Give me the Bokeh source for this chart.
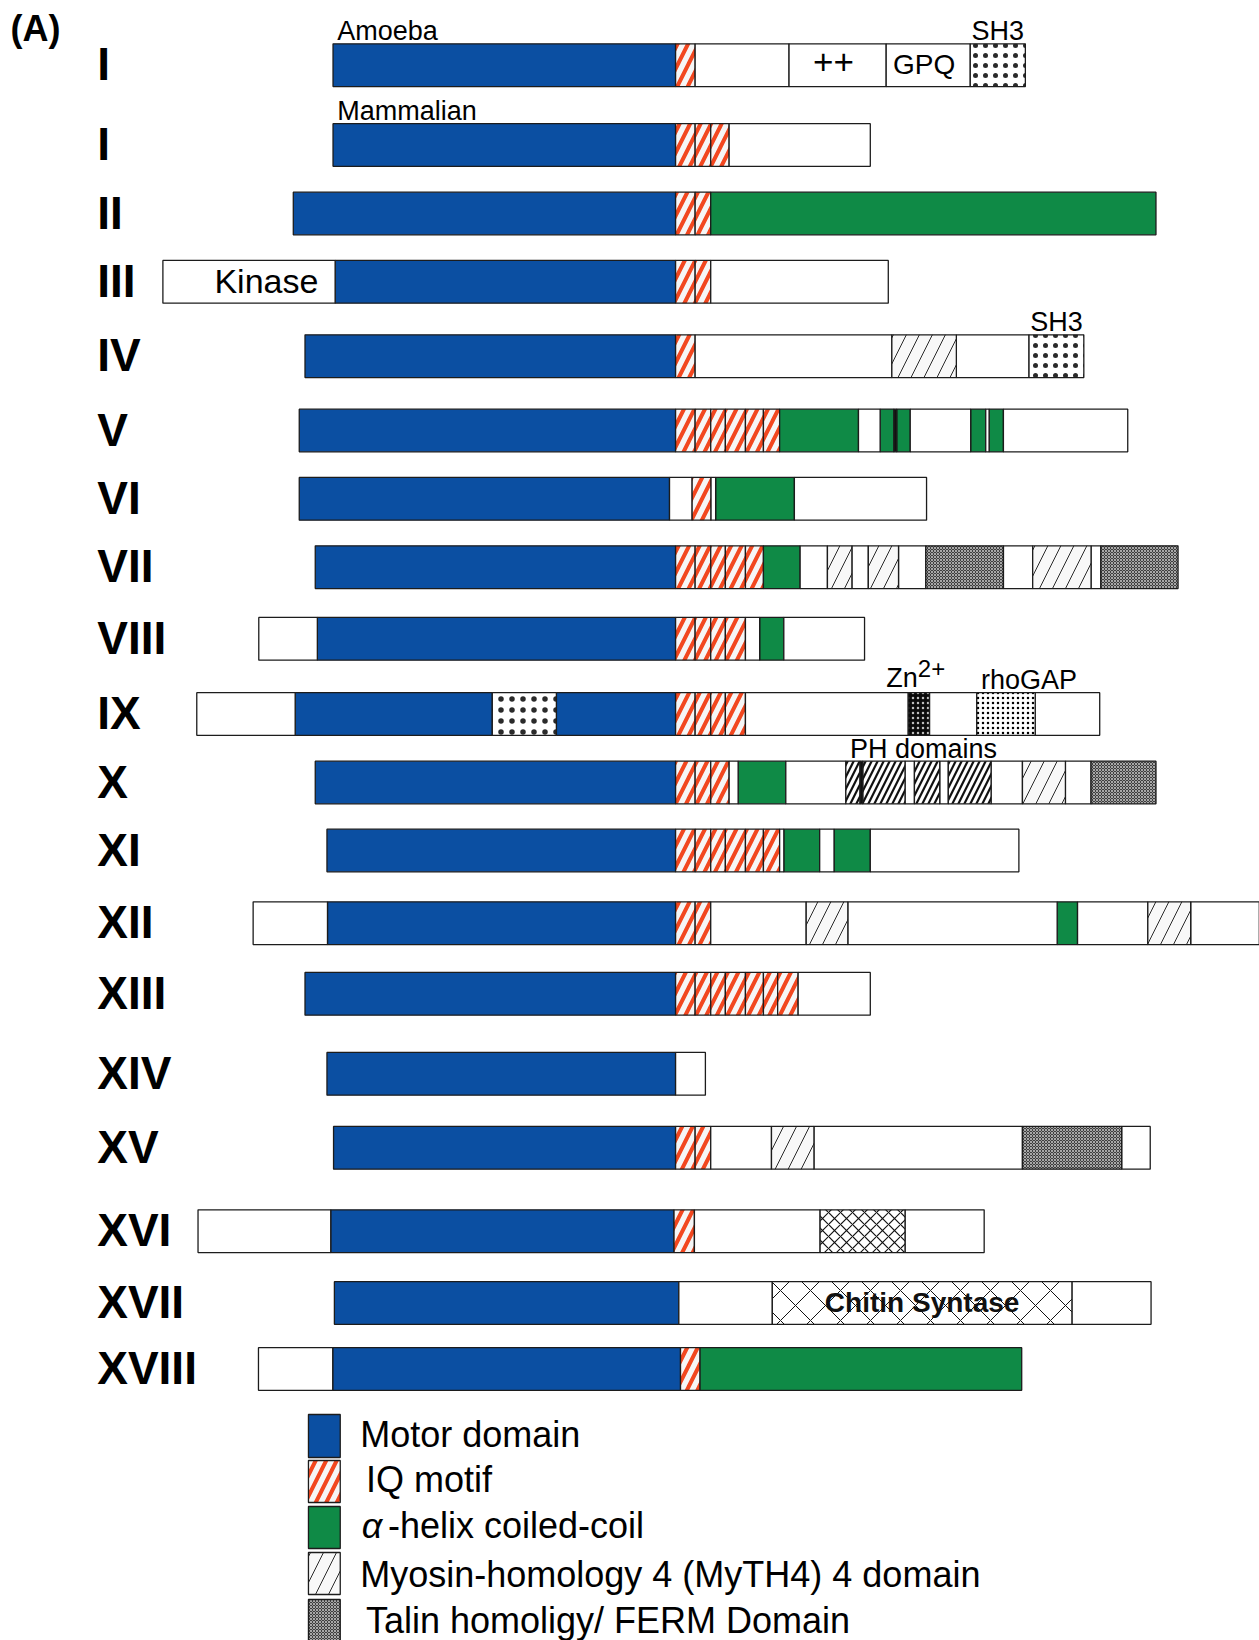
from bokeh.plotting import figure
from bokeh.models import Range1d, ColumnDataSource
from bokeh.core.properties import value
from bokeh.embed import file_html
from bokeh.resources import INLINE

# ---------------------------------------------------------------------------
# Myosin classes (top to bottom) and their domain architecture.
# Positions are in schematic length units along the heavy chain; the end of
# the motor domain is aligned for every class.
# ---------------------------------------------------------------------------
classes = ["I", "I", "II", "III", "IV", "V", "VI", "VII", "VIII", "IX",
           "X", "XI", "XII", "XIII", "XIV", "XV", "XVI", "XVII", "XVIII"]


def run(kind, bounds):
    """Consecutive segments of one domain type between the given boundaries."""
    return [(kind, a, b) for a, b in zip(bounds[:-1], bounds[1:])]


arch = [
    # I (Amoeba)
    [("motor", 318.0, 645.6)] + run("iq", [645.6, 664.3])
    + [("tail", 664.3, 754.1), ("tail", 754.1, 847.0), ("tail", 847.0, 927.4), ("sh3", 927.4, 980.1)],
    # I (Mammalian)
    [("motor", 318.0, 645.6)] + run("iq", [645.6, 664.3, 679.2, 696.8]) + [("tail", 696.8, 831.8)],
    # II
    [("motor", 280.0, 645.6)] + run("iq", [645.6, 664.3, 679.2]) + [("coil", 679.2, 1105.0)],
    # III
    [("tail", 155.3, 320.0), ("motor", 320.0, 645.6)] + run("iq", [645.6, 664.3, 679.2])
    + [("tail", 679.2, 849.0)],
    # IV
    [("motor", 291.2, 645.6)] + run("iq", [645.6, 664.3])
    + [("tail", 664.3, 852.4), ("myth4", 852.4, 914.1), ("tail", 914.1, 983.6), ("sh3", 983.6, 1036.0)],
    # V
    [("motor", 285.7, 645.6)] + run("iq", [645.6, 664.3, 679.2, 693.2, 712.4, 729.6, 745.1])
    + [("coil", 745.1, 820.5), ("tail", 820.5, 841.2), ("coil", 841.2, 854.4), ("bar", 854.4, 857.1),
       ("coil", 857.1, 870.0), ("tail", 870.0, 927.8), ("coil", 927.8, 942.2), ("tail", 942.2, 945.4),
       ("coil", 945.4, 959.1), ("tail", 959.1, 1078.0)],
    # VI
    [("motor", 285.7, 639.8), ("tail", 639.8, 661.2), ("iq", 661.2, 679.5), ("tail", 679.5, 683.9),
     ("coil", 683.9, 759.2), ("tail", 759.2, 885.6)],
    # VII
    [("motor", 301.0, 645.6)] + run("iq", [645.6, 664.3, 679.2, 693.2, 712.4, 729.6])
    + [("coil", 729.6, 764.7), ("tail", 764.7, 790.8), ("myth4", 790.8, 814.2), ("tail", 814.2, 829.9),
       ("myth4", 829.9, 858.8), ("tail", 858.8, 884.9), ("ferm", 884.9, 959.1), ("tail", 959.1, 987.1),
       ("myth4", 987.1, 1042.9), ("tail", 1042.9, 1052.3), ("ferm", 1052.3, 1126.1)],
    # VIII
    [("tail", 247.0, 303.0), ("motor", 303.0, 645.6)] + run("iq", [645.6, 664.3, 679.2, 693.2, 712.4])
    + [("tail", 712.4, 726.0), ("coil", 726.0, 749.1), ("tail", 749.1, 826.3)],
    # IX
    [("tail", 187.7, 281.8), ("motor", 281.8, 470.3), ("insert", 470.3, 531.6), ("motor", 531.6, 645.6)]
    + run("iq", [645.6, 664.3, 679.2, 693.2, 712.4])
    + [("tail", 712.4, 868.1), ("zinc", 868.1, 888.4), ("tail", 888.4, 933.6), ("rhogap", 933.6, 989.5),
       ("tail", 989.5, 1051.2)],
    # X
    [("motor", 301.0, 645.6)] + run("iq", [645.6, 664.3, 679.2, 696.8])
    + [("tail", 696.8, 705.4), ("coil", 705.4, 751.0), ("tail", 751.0, 808.4), ("ph", 808.4, 822.0),
       ("bar", 822.0, 824.6), ("ph", 824.6, 865.0), ("tail", 865.0, 874.0), ("ph", 874.0, 898.2),
       ("tail", 898.2, 906.4), ("ph", 906.4, 947.3), ("tail", 947.3, 977.3), ("myth4", 977.3, 1018.4),
       ("tail", 1018.4, 1042.9), ("ferm", 1042.9, 1105.0)],
    # XI
    [("motor", 312.2, 645.6)] + run("iq", [645.6, 664.3, 679.2, 693.2, 712.4, 729.6, 745.1])
    + [("tail", 745.1, 749.1), ("coil", 749.1, 783.4), ("tail", 783.4, 797.1), ("coil", 797.1, 831.8),
       ("tail", 831.8, 973.9)],
    # XII
    [("tail", 241.6, 312.7), ("motor", 312.7, 645.6)] + run("iq", [645.6, 664.3, 679.2])
    + [("tail", 679.2, 770.5), ("myth4", 770.5, 810.3), ("tail", 810.3, 1010.5), ("coil", 1010.5, 1030.0),
       ("tail", 1030.0, 1097.2), ("myth4", 1097.2, 1138.2), ("tail", 1138.2, 1203.8)],
    # XIII
    [("motor", 291.2, 645.6)] + run("iq", [645.6, 664.3, 679.2, 693.2, 712.4, 729.6, 743.2, 762.8])
    + [("tail", 762.8, 831.8)],
    # XIV
    [("motor", 312.2, 645.6), ("tail", 645.6, 674.1)],
    # XV
    [("motor", 318.5, 645.6)] + run("iq", [645.6, 664.3, 679.2])
    + [("tail", 679.2, 737.3), ("myth4", 737.3, 777.9), ("tail", 777.9, 977.3), ("ferm", 977.3, 1072.2),
       ("tail", 1072.2, 1099.5)],
    # XVI
    [("tail", 188.9, 315.8), ("motor", 315.8, 644.1), ("iq", 644.1, 663.6), ("tail", 663.6, 783.8),
     ("xhatch", 783.8, 865.0), ("tail", 865.0, 940.7)],
    # XVII
    [("motor", 319.3, 648.7), ("tail", 648.7, 738.1), ("chitin", 738.1, 1024.6), ("tail", 1024.6, 1100.3)],
    # XVIII
    [("tail", 246.7, 317.7), ("motor", 317.7, 650.3), ("iq", 650.3, 669.0), ("coil", 669.0, 976.6)],
]

# Text attached to a segment: (row, domain kind, n-th segment of that kind, text, placement)
seg_labels = [
    (0, "motor", 0, "Amoeba", "above-left"),
    (0, "tail", 1, "++", "inside"),
    (0, "tail", 2, "GPQ", "inside"),
    (0, "sh3", 0, "SH3", "above-center"),
    (1, "motor", 0, "Mammalian", "above-left"),
    (3, "tail", 0, "Kinase", "inside-right"),
    (4, "sh3", 0, "SH3", "above-center"),
    (9, "rhogap", 0, "rhoGAP", "above-left"),
    (10, "ph", 0, "PH domains", "above-left"),
    (17, "chitin", 0, "Chitin Syntase", "inside"),
]
zinc_label = (9, "zinc", 0, "Zn", "2+")

legend_kinds = ["motor", "iq", "coil", "myth4", "ferm"]
legend_texts = ["Motor domain", "IQ motif", "-helix coiled-coil",
                "Myosin-homology 4 (MyTH4) 4 domain", "Talin homoligy/ FERM Domain"]


def find(row, kind, nth):
    hits = [s for s in arch[row] if s[0] == kind]
    return hits[nth]


# ---------------------------------------------------------------------------
# Layout (canvas y runs downward)
# ---------------------------------------------------------------------------
row_center = [64.7, 144.5, 213.0, 281.3, 355.7, 430.0, 498.3, 566.7, 638.3, 713.5,
              782.0, 850.0, 922.7, 993.3, 1073.3, 1147.3, 1230.7, 1302.5, 1368.5]
BAR_H = 42.7
legend_rows = [(1414, 1457), (1460, 1502), (1506, 1548), (1552, 1594), (1599, 1641)]
legend_baseline = [1447, 1492, 1538, 1587, 1633]
legend_box_x = (294.5, 324.9)
legend_text_x = [344.0, 349.5, 345.5, 344.0, 349.5]

FONT = "Liberation Sans"
OUTLINE = dict(line_color="#1c1c1c", line_width=1.3)

STYLE = {
    "motor": dict(fill_color="#0b4fa2"),
    "iq": dict(fill_color="#f6f6f6", hatch_pattern="/", hatch_color="#f2471f",
               hatch_weight=4, hatch_scale=21),
    "coil": dict(fill_color="#0f8a46"),
    "tail": dict(fill_color="white"),
    "myth4": dict(fill_color="#f8f8f8", hatch_pattern="/", hatch_color="#2a2a2a",
                  hatch_weight=1, hatch_scale=26),
    "ferm": dict(fill_color="#3e3e3e", hatch_pattern="x", hatch_color="#a8a8a8",
                 hatch_weight=1, hatch_scale=3),
    "sh3": dict(fill_color="white", hatch_pattern=".", hatch_color="#2a2a2a",
                hatch_weight=1, hatch_scale=10),
    "insert": dict(fill_color="white", hatch_pattern=".", hatch_color="#2a2a2a",
                   hatch_weight=1, hatch_scale=11),
    "rhogap": dict(fill_color="white", hatch_pattern=".", hatch_color="black",
                   hatch_weight=1, hatch_scale=5),
    "zinc": dict(fill_color="#0a0a0a", hatch_pattern=".", hatch_color="#bdbdbd",
                 hatch_weight=1, hatch_scale=5),
    "ph": dict(fill_color="white", hatch_pattern="/", hatch_color="#111111",
               hatch_weight=2.2, hatch_scale=12),
    "bar": dict(fill_color="#111111"),
    "xhatch": dict(fill_color="white", hatch_pattern="x", hatch_color="#111111",
                   hatch_weight=1.2, hatch_scale=12),
    "chitin": dict(fill_color="white", hatch_pattern="x", hatch_color="#111111",
                   hatch_weight=1, hatch_scale=30),
}
INSIDE_SIZE = {"++": 35, "GPQ": 28, "Chitin Syntase": 28}

# the text glyph sits its alphabetic baseline this fraction of an em below y
BASE_SHIFT = 0.375

p = figure(width=1259, height=1640, x_range=Range1d(0, 1204), y_range=Range1d(1640, 0),
           output_backend="svg", toolbar_location=None, min_border=0,
           x_axis_type=None, y_axis_type=None, background_fill_color="white")
p.grid.visible = False
p.outline_line_color = None


def label(xs, baselines, texts, size, align="left", style="normal", color="black"):
    p.text(x=list(xs), y=[b - BASE_SHIFT * size for b in baselines], text=list(texts),
           text_font=value(FONT), text_font_style=style, text_font_size=f"{size}px",
           text_baseline="alphabetic", text_align=align, text_color=color)


# --- domain bars ------------------------------------------------------------
cols = {k: dict(left=[], right=[], top=[], bottom=[]) for k in STYLE}
for r, segs in enumerate(arch):
    yc = row_center[r]
    for kind, a, b in segs:
        c = cols[kind]
        c["left"].append(a)
        c["right"].append(b)
        c["top"].append(yc - BAR_H / 2)
        c["bottom"].append(yc + BAR_H / 2)

for kind, c in cols.items():
    if c["left"]:
        p.quad(source=ColumnDataSource(c), left="left", right="right", top="top",
               bottom="bottom", **STYLE[kind], **OUTLINE)

# --- class labels -------------------------------------------------------------
label([92.5] * len(classes), [yc + 16.5 for yc in row_center], classes, 46, style="bold")
label([9.5], [41.0], ["(A)"], 36, style="bold")

# --- segment annotations -------------------------------------------------------
for r, kind, nth, txt, where in seg_labels:
    _, a, b = find(r, kind, nth)
    top = row_center[r] - BAR_H / 2
    if where == "above-left":
        label([a + 4], [top - 2.5], [txt], 27)
    elif where == "above-center":
        label([(a + b) / 2], [top - 3], [txt], 27, align="center")
    elif where == "inside-right":
        label([b - 16], [row_center[r] + 12], [txt], 34, align="right")
    elif kind == "chitin":
        label([(a + b) / 2], [row_center[r] + 10], [txt], INSIDE_SIZE[txt], align="center",
              style="bold", color="#111111")
    else:
        label([(a + b) / 2 - 4], [row_center[r] + 10], [txt], INSIDE_SIZE[txt], align="center")

zr, zkind, znth, ztxt, zsup = zinc_label
_, za, zb = find(zr, zkind, znth)
ztop = row_center[zr] - BAR_H / 2
label([(za + zb) / 2 - 1], [ztop - 5], [ztxt], 27, align="right")
label([(za + zb) / 2 - 1], [ztop - 15], [zsup], 24)

# --- legend ----------------------------------------------------------------------
for k, (t, btm), tx, base, lab in zip(legend_kinds, legend_rows, legend_text_x,
                                       legend_baseline, legend_texts):
    p.quad(left=[legend_box_x[0]], right=[legend_box_x[1]], top=[t], bottom=[btm],
           **STYLE[k], **OUTLINE)
    if k == "coil":
        label([tx], [base], ["\u03b1"], 36, style="italic")
        label([tx + 25], [base], [lab], 36)
    else:
        label([tx], [base], [lab], 36)

open("out.html", "w").write(file_html(p, INLINE))
